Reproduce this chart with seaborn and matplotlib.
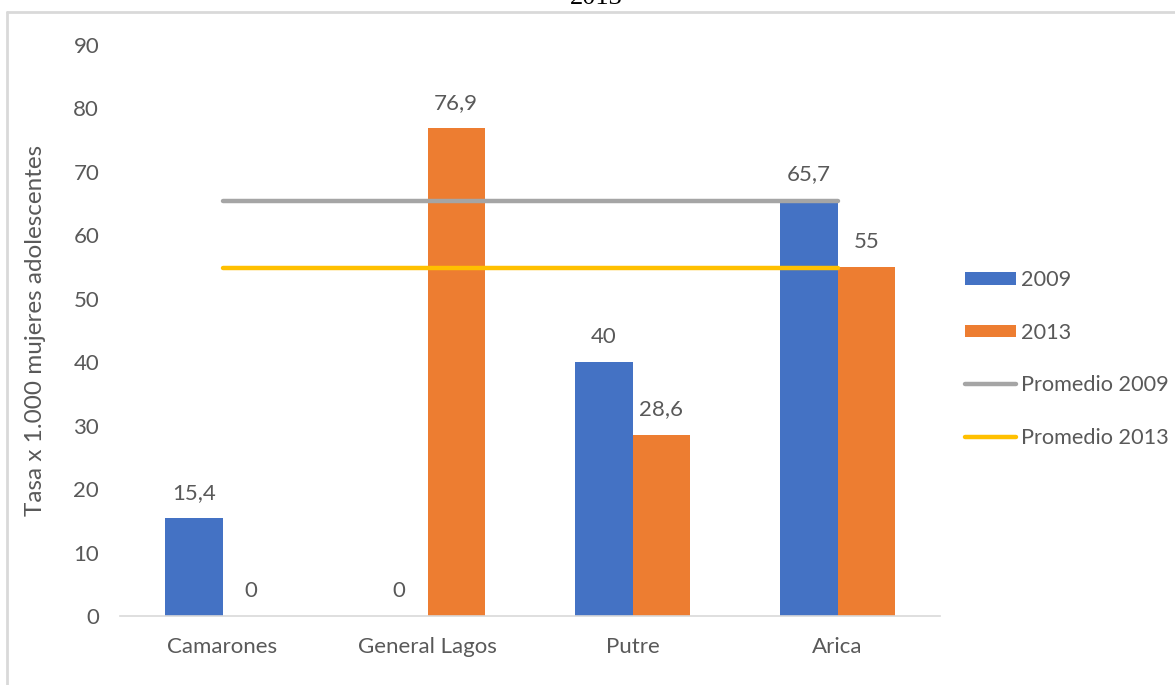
import matplotlib
matplotlib.use("Agg")
import matplotlib.pyplot as plt
from matplotlib.patches import Patch
from matplotlib.lines import Line2D
import seaborn as sns
import pandas as pd

# Comunas and rates (per 1.000 adolescent women)
categorias = ["Camarones", "General Lagos", "Putre", "Arica"]
tasa_2009 = [15.4, 0, 40, 65.7]
tasa_2013 = [0, 76.9, 28.6, 55]
promedio_2009 = [65.4, 65.4, 65.4, 65.4]
promedio_2013 = [54.8, 54.8, 54.8, 54.8]
y_ticks = [0, 10, 20, 30, 40, 50, 60, 70, 80, 90]

AZUL = "#4472C4"
NARANJA = "#ED7D31"
GRIS = "#A5A5A5"
AMARILLO = "#FFC000"
TEXTO = "#595959"

sns.set_theme(style="white")
plt.rcParams["font.family"] = ["Lato", "DejaVu Sans"]

df = pd.DataFrame({
    "comuna": categorias * 2,
    "anio": ["2009"] * len(categorias) + ["2013"] * len(categorias),
    "tasa": tasa_2009 + tasa_2013,
})

fig = plt.figure(figsize=(11.75, 6.85), dpi=100)
ax = fig.add_axes([120 / 1175, 1 - 616 / 685, (940 - 120) / 1175, (616 - 45) / 685])

sns.barplot(data=df, x="comuna", y="tasa", hue="anio", order=categorias,
            hue_order=["2009", "2013"], palette=[AZUL, NARANJA], saturation=1,
            width=0.56, gap=0, errorbar=None, edgecolor="none",
            legend=False, ax=ax)

x_idx = list(range(len(categorias)))
ax.plot(x_idx, promedio_2009, color=GRIS, lw=3.2, solid_capstyle="round", zorder=3)
ax.plot(x_idx, promedio_2013, color=AMARILLO, lw=3.2, solid_capstyle="round", zorder=3)

# value labels above each bar
for cont in ax.containers:
    for rect, val in zip(cont, cont.datavalues):
        txt = f"{val:g}".replace(".", ",")
        ax.annotate(txt, (rect.get_x() + rect.get_width() / 2, val),
                    xytext=(0, 18), textcoords="offset points",
                    ha="center", va="center", fontsize=16, color=TEXTO)

ax.set_xlim(-0.5, 3.5)
ax.set_ylim(0, 90)
ax.set_yticks(y_ticks)
ax.set_yticklabels([str(t) for t in y_ticks])
ax.tick_params(axis="y", length=0, pad=15, labelsize=16, labelcolor=TEXTO)
ax.tick_params(axis="x", length=0, pad=15, labelsize=16, labelcolor=TEXTO)
ax.set_xlabel("")
ax.set_ylabel("Tasa x 1.000 mujeres adolescentes", fontsize=17.5, color=TEXTO, labelpad=20)

for s in ["top", "right", "left"]:
    ax.spines[s].set_visible(False)
ax.spines["bottom"].set_color("#D9D9D9")
ax.spines["bottom"].set_linewidth(1.2)

handles = [
    Patch(facecolor=AZUL, edgecolor="none"),
    Patch(facecolor=NARANJA, edgecolor="none"),
    Line2D([0], [0], color=GRIS, lw=3.2, solid_capstyle="round"),
    Line2D([0], [0], color=AMARILLO, lw=3.2, solid_capstyle="round"),
]
labels = ["2009", "2013", "Promedio 2009", "Promedio 2013"]
fig.legend(handles, labels, loc="center left",
           bbox_to_anchor=(965 / 1175, 1 - 359 / 685),
           frameon=False, fontsize=15.6, labelcolor=TEXTO,
           handlelength=2.35, handleheight=0.5, handletextpad=0.25,
           labelspacing=1.5, borderpad=0, borderaxespad=0)

# chart frame (top and left edges) and the clipped title above it
frame_col = "#D9D9D9"
fig.add_artist(Line2D([7 / 1175, 1], [1 - 12 / 685, 1 - 12 / 685],
                      transform=fig.transFigure, color=frame_col, lw=2))
fig.add_artist(Line2D([7 / 1175, 7 / 1175], [0, 1 - 12 / 685],
                      transform=fig.transFigure, color=frame_col, lw=2))
fig.text(596 / 1175, 1 - 4 / 685, "2013", ha="center", va="baseline",
         fontsize=19, color="black", family=["Liberation Serif", "DejaVu Serif"])

fig.savefig("out.png", dpi=100, facecolor="white")
